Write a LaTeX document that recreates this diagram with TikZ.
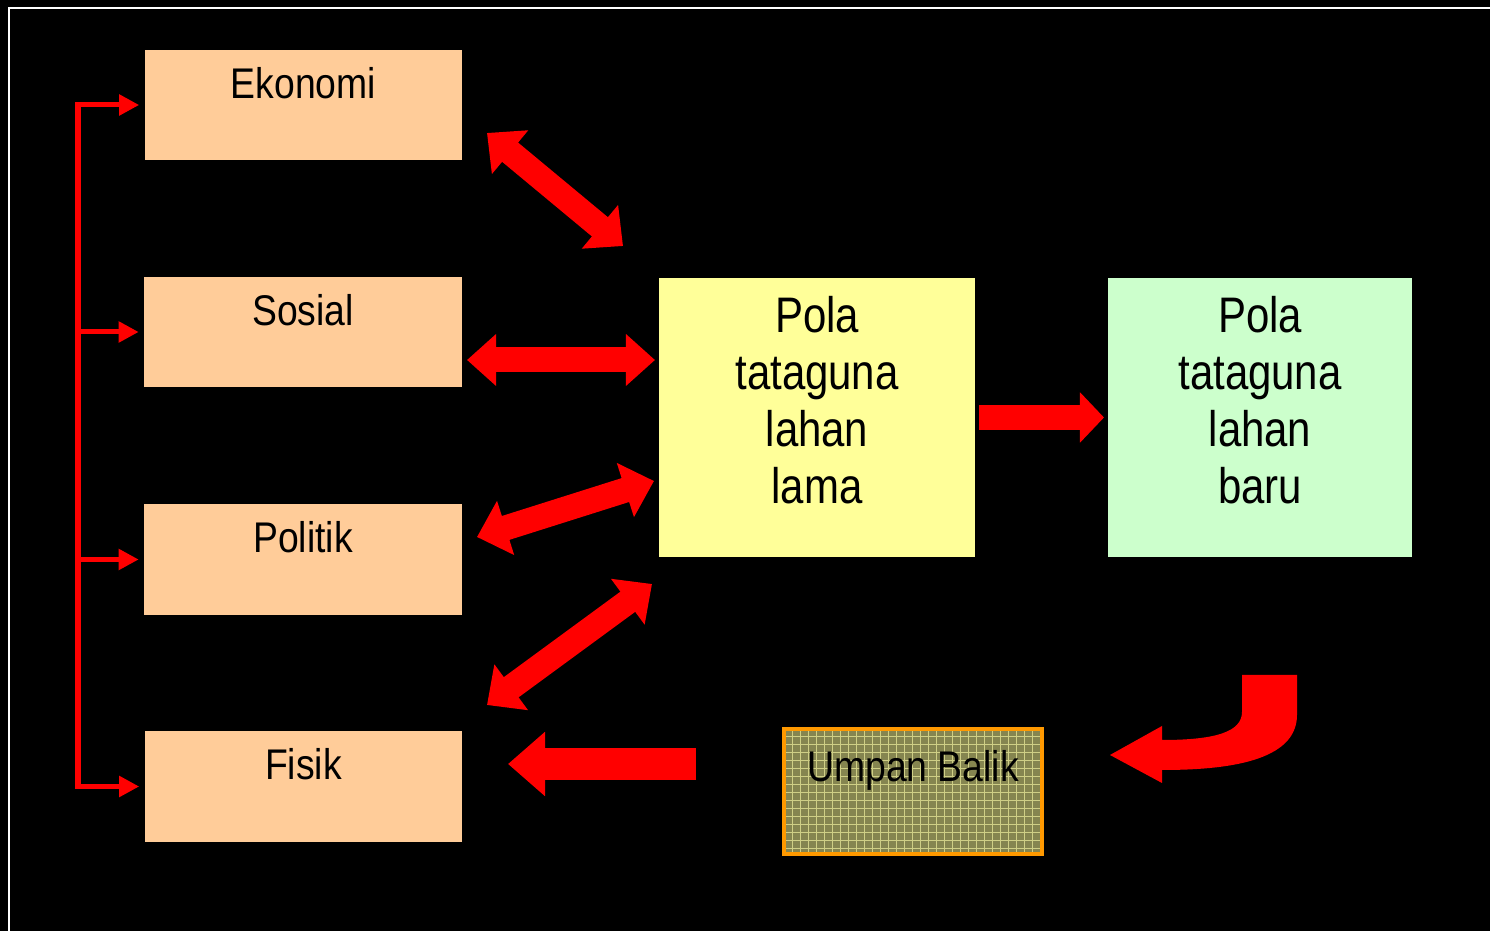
\documentclass[tikz,border=0pt]{standalone}
\usepackage{fontspec}
\setmainfont{Liberation Sans}[FakeStretch=0.87]
\usepackage{tikz}
\usetikzlibrary{positioning, arrows.meta, calc}
\definecolor{peach}{HTML}{FFCC99}
\definecolor{lemon}{HTML}{FFFF99}
\definecolor{mint}{HTML}{CCFFCC}
\definecolor{jingga}{HTML}{FF9900}
\definecolor{zaitun}{HTML}{858550}
\definecolor{kisi}{HTML}{CFCF86}

\begin{document}
\begin{tikzpicture}[x=0.01cm, y=-0.01cm,
	faktor/.style={fill=peach, minimum width=3.17cm, minimum height=1.10cm, inner sep=0pt},
	pola/.style={minimum width=3.16cm, minimum height=2.79cm, inner sep=0pt},
	teks/.style={inner sep=0pt, font=\fontsize{12.2}{14}\selectfont},
	teksbesar/.style={inner sep=0pt, align=center, font=\fontsize{14.2}{16.2}\selectfont\addfontfeature{FakeStretch=0.84}},
	blok/.style={draw=red, line width=0.25cm},
	cabang/.style={draw=red, line width=0.05cm, shorten >=0.05cm, -{Triangle[length=0.2cm, width=0.2cm]}}]
	\useasboundingbox (0,0) rectangle (1490,931);
	\fill[black] (0,0) rectangle (1490,931);
	\draw[white, line width=0.02cm] (9,931) -- (9,8) -- (1490,8);

	% faktor-faktor di kiri
	\node[faktor] (ekonomi) at (303.5,105) {};
	\node[faktor] (sosial) at (303,332) {};
	\node[faktor] (politik) at (303,559.5) {};
	\node[faktor] (fisik) at (303.5,786.5) {};
	\node[teks, below=0.17cm of ekonomi.north] (ekonomi-t) {Ekonomi};
	\node[teks, below=0.17cm of sosial.north] (sosial-t) {Sosial};
	\node[teks, below=0.17cm of politik.north] (politik-t) {Politik};
	\node[teks, below=0.17cm of fisik.north] (fisik-t) {Fisik};

	% pola tataguna lahan
	\node[pola, fill=lemon] (lama) at (817,417.5) {};
	\node[pola, fill=mint, minimum width=3.04cm] (baru) at (1260,417.5) {};
	\node[teksbesar, below=0.18cm of lama.north] (lama-t) {Pola\\tataguna\\lahan\\lama};
	\node[teksbesar, below=0.18cm of baru.north] (baru-t) {Pola\\tataguna\\lahan\\baru};

	% umpan balik
	\node[fill=zaitun, minimum width=2.60cm, minimum height=1.27cm, inner sep=0pt] (umpan) at (913,791.5) {};
	\begin{scope}
		\clip ($(umpan.south west)+(4,-4)$) rectangle ($(umpan.north east)+(-4,4)$);
		\draw[kisi, line width=0.3pt] (umpan.south west) grid[step=0.08cm] (umpan.north east);
	\end{scope}
	\draw[jingga, line width=0.04cm] ($(umpan.south west)+(2,-2)$) rectangle ($(umpan.north east)+(-2,2)$);
	\node[teks, below=0.22cm of umpan.north] (umpan-t) {Umpan Balik};

	% garis cabang
	\coordinate (bus) at (78,0);
	\draw[red, line width=0.05cm, line cap=rect] (bus |- ekonomi.west) -- (bus |- fisik.west);
	\foreach \n in {ekonomi,sosial,politik,fisik}
		\draw[cabang] (bus |- \n.west) -- (\n.west);

	% panah blok
	\coordinate (a1) at (487,133); \coordinate (b1) at (623,246);
	\coordinate (a2) at (467,360); \coordinate (b2) at (655,360);
	\coordinate (a3) at (477,537); \coordinate (b3) at (654,481);
	\coordinate (a4) at (487,705); \coordinate (b4) at (652,584);
	\coordinate (a5) at (979,417.5); \coordinate (b5) at (1104,417.5);
	\coordinate (a6) at (696,764); \coordinate (b6) at (508,764);
	\draw[blok, {Triangle[length=0.30cm, width=0.55cm]}-{Triangle[length=0.30cm, width=0.55cm]}] (a1) -- (b1);
	\draw[blok, {Triangle[length=0.29cm, width=0.50cm]}-{Triangle[length=0.29cm, width=0.50cm]}] (a2) -- (b2);
	\draw[blok, {Triangle[length=0.30cm, width=0.55cm]}-{Triangle[length=0.30cm, width=0.55cm]}] (a3) -- (b3);
	\draw[blok, {Triangle[length=0.30cm, width=0.55cm]}-{Triangle[length=0.30cm, width=0.55cm]}] (a4) -- (b4);
	\draw[blok, -{Triangle[length=0.24cm, width=0.49cm]}] (a5) -- (b5);
	\draw[blok, line width=0.32cm, -{Triangle[length=0.37cm, width=0.62cm]}] (a6) -- (b6);

	% panah lengkung
	\fill[red] (1242,675) -- (1297,675) -- (1297,715)
		.. controls (1297,762) and (1225,770) .. (1162,770)
		-- (1162,783) -- (1110,755) -- (1162,726) -- (1162,740)
		.. controls (1215,740) and (1242,732) .. (1242,712) -- cycle;
\end{tikzpicture}
\end{document}
